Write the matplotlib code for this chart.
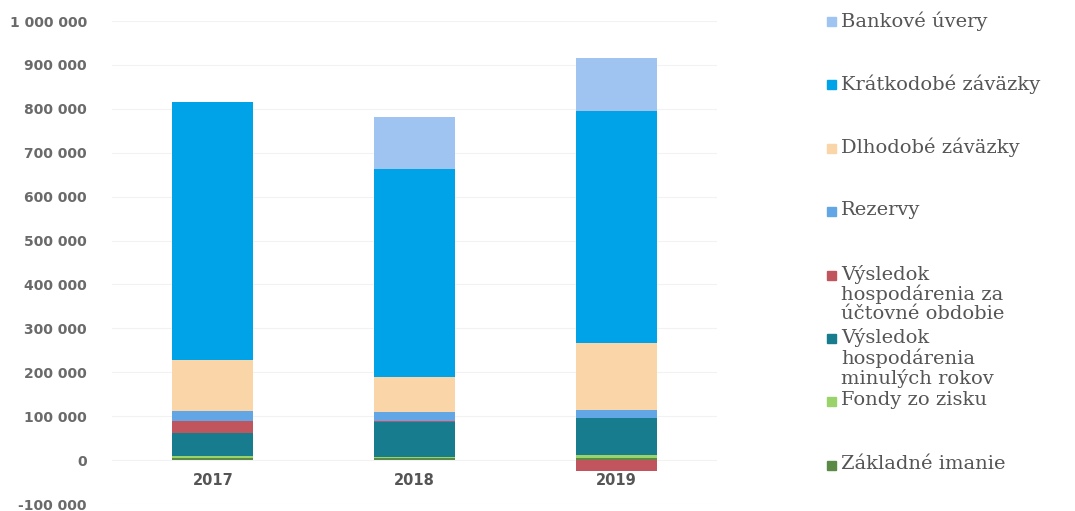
import matplotlib
matplotlib.use("Agg")
import matplotlib.pyplot as plt
import numpy as np
from matplotlib.ticker import FuncFormatter

years = ["2017", "2018", "2019"]

# stacking order bottom -> top
series_names = [
    "Základné imanie",
    "Fondy zo zisku",
    "Výsledok\nhospodárenia\nminulých rokov",
    "Výsledok\nhospodárenia za\núčtovné obdobie",
    "Rezervy",
    "Dlhodobé záväzky",
    "Krátkodobé záväzky",
    "Bankové úvery",
]
zakladne_imanie = [5000, 5000, 5000]
fondy_zo_zisku = [5000, 3000, 6000]
vh_minulych_rokov = [51000, 78000, 84000]
vh_uctovne_obdobie = [27000, 3000, -25000]
rezervy = [24000, 21000, 20000]
dlhodobe_zavazky = [116000, 79000, 152000]
kratkodobe_zavazky = [587000, 473000, 527000]
bankove_uvery = [0, 119000, 121000]

series_values = [zakladne_imanie, fondy_zo_zisku, vh_minulych_rokov,
                 vh_uctovne_obdobie, rezervy, dlhodobe_zavazky,
                 kratkodobe_zavazky, bankove_uvery]
colors = ["#5a8a45", "#9bd36b", "#167c8e", "#c0555e",
          "#63a6e6", "#f9d5a8", "#00a3e8", "#9fc4f2"]

fig = plt.figure(figsize=(10.75, 5.11), dpi=100)
ax = fig.add_axes([112/1075, 7/511, (717-112)/1075, (504-21)/511])

x = np.arange(len(years))
pos_bottom = np.zeros(len(years))
neg_bottom = np.zeros(len(years))
for name, vals, c in zip(series_names, series_values, colors):
    v = np.array(vals, dtype=float)
    bottoms = np.where(v >= 0, pos_bottom, neg_bottom)
    ax.bar(x, v, width=0.4, bottom=bottoms, color=c, zorder=3, linewidth=0)
    pos_bottom += np.where(v >= 0, v, 0)
    neg_bottom += np.where(v < 0, v, 0)

ax.set_xlim(-0.5, 2.5)
ax.set_ylim(-100000, 1000000)
ax.set_yticks(np.arange(-100000, 1000001, 100000))
ax.yaxis.set_major_formatter(FuncFormatter(lambda v, p: f"{int(v):,}".replace(",", " ")))
ax.grid(axis="y", color="#f2f2f2", linewidth=0.8, zorder=0)
for s in ax.spines.values():
    s.set_visible(False)
ax.spines["bottom"].set_position(("data", 0))
ax.tick_params(axis="y", length=0, pad=18, labelsize=10, labelcolor="#6a6a6a")
ax.tick_params(axis="x", length=0, pad=9, labelsize=10.5, labelcolor="#555555")
ax.set_xticks(x)
ax.set_xticklabels(years, fontweight="bold")
for t in ax.get_yticklabels():
    t.set_fontweight("bold")

# manual legend (top-aligned entries)
legend_order = list(range(len(series_names)))[::-1]
y0 = 22
step = 63.4
for i, idx in enumerate(legend_order):
    ypix = y0 + i * step
    fy = 1 - ypix / 511
    fig.patches.append(plt.Rectangle((827/1075, fy - 4/511), 9/1075, 9/511,
                                     transform=fig.transFigure, color=colors[idx],
                                     figure=fig))
    fig.text(841/1075, fy + 11/511, series_names[idx], ha="left", va="top",
             family="DejaVu Serif", fontsize=14, color="#555555",
             linespacing=1.08)

fig.savefig("out.png", dpi=100)
